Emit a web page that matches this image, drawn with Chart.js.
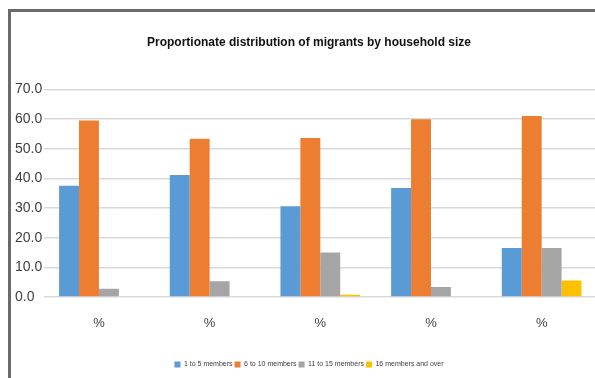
<!DOCTYPE html>
<html>
<head>
<meta charset="utf-8">
<script src="https://cdn.jsdelivr.net/npm/chart.js@4/dist/chart.umd.min.js"></script>
<style>
  html, body { margin: 0; padding: 0; background: #fff; overflow: hidden; }
  #frame { position: absolute; left: 0; top: 0; width: 595px; height: 378px; overflow: hidden; }
  #edge { position: absolute; left: 8px; top: 9px; width: 600px; height: 400px;
          border-top: 3px solid #6a6a6a; border-left: 3px solid #6a6a6a; box-sizing: border-box; }
  #wrap { position: absolute; left: 0; top: 0; width: 620px; height: 378px; }
</style>
</head>
<body>
<div id="frame">
  <div id="wrap"><canvas id="c" width="620" height="378"></canvas></div>
  <div id="edge"></div>
</div>
<script>
// Household-size shares (%) for each of the five surveyed groups
const categories = ['%', '%', '%', '%', '%'];
const members1to5 = [37.5, 41.1, 30.6, 36.7, 16.5];
const members6to10 = [59.5, 53.3, 53.6, 59.9, 61.0];
const members11to15 = [2.8, 5.3, 15.0, 3.4, 16.5];
const members16plus = [0.0, 0.0, 0.8, 0.0, 5.6];
const seriesNames = ['1 to 5 members', '6 to 10 members', '11 to 15 members', '16 members and over'];
const yTicks = [0, 10, 20, 30, 40, 50, 60, 70];

const FONT = "'Liberation Sans', Arial, sans-serif";
const colors = ['#5B9BD5', '#ED7D31', '#A5A5A5', '#FFC000'];
const values = [members1to5, members6to10, members11to15, members16plus];

new Chart(document.getElementById('c'), {
  type: 'bar',
  data: {
    labels: categories,
    datasets: seriesNames.map((name, i) => ({
      label: name,
      data: values[i],
      backgroundColor: colors[i],
      borderWidth: 0,
      categoryPercentage: 0.72,
      barPercentage: 1.0
    }))
  },
  options: {
    responsive: false,
    animation: false,
    devicePixelRatio: 1,
    layout: { padding: { left: 21, right: 23, top: 0, bottom: 0 } },
    plugins: {
      title: {
        display: true,
        text: 'Proportionate distribution of migrants by household size',
        color: '#111',
        font: { family: FONT, size: 12, weight: 'bold' },
        padding: { top: 35, bottom: 39.9 }
      },
      legend: {
        position: 'bottom',
        labels: {
          color: '#404040',
          font: { family: FONT, size: 7 },
          boxWidth: 6,
          boxHeight: 6,
          padding: 2
        }
      },
      tooltip: { enabled: false }
    },
    scales: {
      x: {
        grid: { display: false, drawTicks: false },
        border: { display: false },
        ticks: { color: '#404040', font: { family: FONT, size: 13 }, padding: 19 },
        afterFit: (s) => { s.height = 62; }
      },
      y: {
        min: 0,
        max: 70,
        afterBuildTicks: (s) => { s.ticks = yTicks.map(v => ({ value: v })); },
        grid: { color: '#d9d9d9', lineWidth: 1.6, drawTicks: false },
        border: { display: false },
        ticks: {
          color: '#404040',
          font: { family: FONT, size: 14 },
          mirror: true,
          crossAlign: 'near',
          padding: -28.6,
          callback: (v) => Number(v).toFixed(1)
        },
        afterFit: (s) => { s.width = 22.6; }
      }
    }
  }
});
</script>
</body>
</html>
